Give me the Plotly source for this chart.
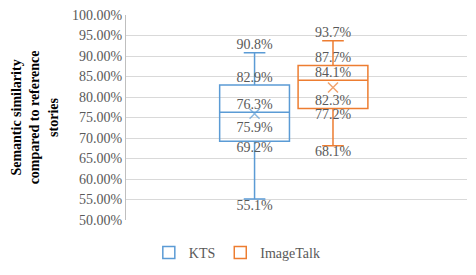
import plotly.graph_objects as go

# ---- data ----
series_names = ["KTS", "ImageTalk"]
category = [""]
maxs = [0.908, 0.937]
q3s = [0.829, 0.877]
medians = [0.763, 0.841]
means = [0.759, 0.823]
q1s = [0.692, 0.772]
mins = [0.551, 0.681]
colors = ["#5B9BD5", "#ED7D31"]
y_ticks = [0.50, 0.55, 0.60, 0.65, 0.70, 0.75, 0.80, 0.85, 0.90, 0.95, 1.00]

FONT = "Liberation Serif"
GRAY = "#595959"

fig = go.Figure()

for i, name in enumerate(series_names):
    fig.add_trace(go.Box(
        name=name,
        x=category,
        q1=[q1s[i]], median=[medians[i]], q3=[q3s[i]],
        lowerfence=[mins[i]], upperfence=[maxs[i]],
        line=dict(color=colors[i], width=1.5),
        fillcolor="rgba(0,0,0,0)",
        whiskerwidth=0.31,
        offsetgroup=name,
        hoverinfo="skip",
    ))

for i, name in enumerate(series_names):
    ys = [maxs[i], q3s[i], medians[i], means[i], q1s[i], mins[i]]
    pos = ["top center", "top center", "top center", "bottom center", "bottom center", "bottom center"]
    sizes = [0, 0, 0, 10, 0, 0]
    fig.add_trace(go.Scatter(
        x=category * len(ys),
        y=ys,
        mode="markers+text",
        text=[f"{v*100:.1f}%" for v in ys],
        textposition=pos,
        textfont=dict(family=FONT, size=14, color=GRAY),
        marker=dict(symbol="x-thin", size=sizes,
                    line=dict(color=colors[i], width=1.5), color=colors[i]),
        offsetgroup=name,
        showlegend=False,
        hoverinfo="skip",
        cliponaxis=False,
    ))

# page body has an 8px margin: figure is 468x267, plot area placed accordingly
fig.update_layout(
    width=468, height=267,
    margin=dict(l=118, r=9, t=7, b=55, autoexpand=False),
    paper_bgcolor="white", plot_bgcolor="white",
    boxmode="group", boxgap=0.54, boxgroupgap=0.11,
    scattermode="group", scattergap=0.54,
    font=dict(family=FONT, size=14, color=GRAY),
    showlegend=True,
    legend=dict(orientation="h", xref="container", yref="container",
                x=0.49, xanchor="center", y=0.083, yanchor="middle",
                font=dict(family=FONT, size=14, color=GRAY),
                itemwidth=30, tracegroupgap=0),
)

fig.update_xaxes(range=[-0.492, 0.508], showticklabels=False, showgrid=False,
                 zeroline=False, showline=False, ticks="")
fig.update_yaxes(
    range=[0.5, 1.0], tickvals=y_ticks, tickformat=".2%",
    showgrid=True, gridcolor="#D9D9D9", gridwidth=1,
    showline=True, linecolor="#BFBFBF", linewidth=1,
    zeroline=False, ticks="",
    tickfont=dict(family=FONT, size=14, color=GRAY),
    ticklabeloverflow="allow",
    automargin=False,
    title=dict(text="<b>Semantic similarity<br>compared to reference<br>stories</b>",
               font=dict(family=FONT, size=14, color="black"), standoff=10),
)

fig.write_html("out.html")
